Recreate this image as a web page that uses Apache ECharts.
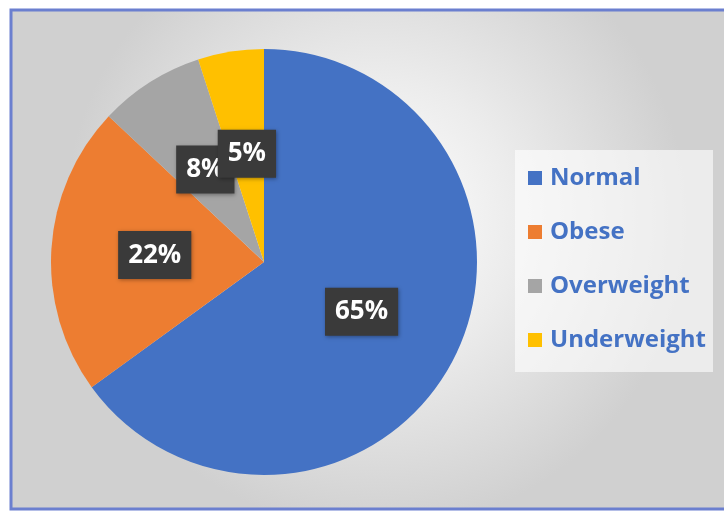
<!DOCTYPE html>
<html>
<head>
<meta charset="utf-8">
<script src="https://cdn.jsdelivr.net/npm/echarts@6/dist/echarts.min.js"></script>
<style>
  html, body { margin: 0; padding: 0; background: #ffffff; }
  #chart { width: 724px; height: 512px; }
</style>
</head>
<body>
<div id="chart"></div>
<script>
var categories = ['Normal', 'Obese', 'Overweight', 'Underweight'];
var values = [65, 22, 8, 5];
var colors = ['#4472C4', '#ED7D31', '#A5A5A5', '#FFC000'];

var chart = echarts.init(document.getElementById('chart'));

var data = categories.map(function (name, i) {
  return { name: name, value: values[i], itemStyle: { color: colors[i] } };
});

chart.setOption({
  backgroundColor: '#ffffff',
  animation: false,
  graphic: [
    {
      type: 'rect',
      z: -10,
      shape: { x: 11, y: 10, width: 730, height: 499 },
      style: {
        fill: {
          type: 'radial', x: 0.5, y: 0.42, r: 0.62,
          colorStops: [
            { offset: 0, color: '#ffffff' },
            { offset: 0.45, color: '#ececec' },
            { offset: 1, color: '#d0d0d0' }
          ]
        },
        stroke: '#6b7fcf',
        lineWidth: 3
      }
    },
    {
      type: 'rect',
      z: -5,
      shape: { x: 515, y: 150, width: 198, height: 222 },
      style: { fill: 'rgba(255,255,255,0.6)' }
    }
  ],
  legend: {
    orient: 'vertical',
    left: 528,
    top: 163,
    padding: 0,
    itemWidth: 14,
    itemHeight: 14,
    itemGap: 24,
    icon: 'rect',
    data: categories,
    textStyle: {
      color: '#4472C4',
      fontFamily: 'Open Sans',
      fontWeight: 'bold',
      fontSize: 24,
      lineHeight: 30,
      padding: [0, 0, 0, 3]
    }
  },
  series: [
    {
      type: 'pie',
      center: [264, 262],
      radius: [0, 213],
      startAngle: 90,
      clockwise: true,
      data: data,
      labelLayout: { hideOverlap: false },
      label: {
        show: true,
        position: 'inside',
        formatter: '{c}%',
        color: '#ffffff',
        fontFamily: 'Open Sans',
        fontWeight: 'bold',
        fontSize: 26,
        lineHeight: 28,
        backgroundColor: '#3a3a3a',
        padding: [10, 10],
        shadowColor: 'rgba(0,0,0,0.35)',
        shadowBlur: 4,
        shadowOffsetX: 1,
        shadowOffsetY: 1
      },
      labelLine: { show: false },
      emphasis: { disabled: true }
    }
  ]
});
</script>
</body>
</html>
